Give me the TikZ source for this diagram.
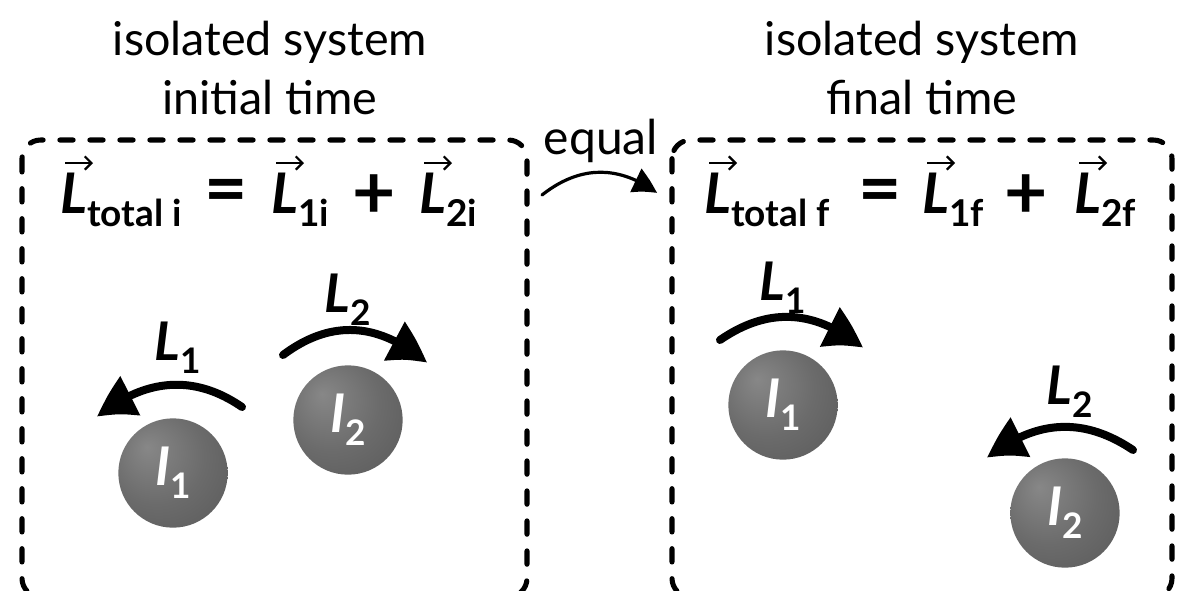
\documentclass[tikz,border=0pt]{standalone}
\usepackage{fontspec}
\setmainfont{Lato}
\usepackage{graphicx}
\usetikzlibrary{arrows.meta,bending}
\pgfdeclareradialshading{spheregray}{\pgfpoint{-12bp}{12bp}}{%
  color(0bp)=(black!47); color(22bp)=(black!58); color(45bp)=(black!66); color(60bp)=(black!70)}
\newcommand{\lowsub}[1]{\raisebox{-0.24em}{\scalebox{0.66}{#1}}}
\tikzset{
  sysbox/.style={draw=black, line width=3.8pt, line cap=round, dash pattern=on 10pt off 12.5pt, rounded corners=14pt},
  title/.style={align=center, font=\fontsize{35}{44}\selectfont, inner sep=0pt},
  eqterm/.style={font=\fontsize{42}{50}\selectfont\bfseries, inner sep=0pt, anchor=base west},
  eqop/.style={font=\fontsize{56}{60}\selectfont\bfseries, inner sep=0pt},
  vecarrow/.style={line width=1.6pt, -{Straight Barb[length=5pt,width=10pt,line width=1.6pt]}},
  sphere/.style={circle, minimum size=82pt, inner sep=0pt, shading=spheregray, text=white,
     font=\fontsize{40}{44}\selectfont\bfseries},
  llabel/.style={font=\fontsize{40}{44}\selectfont\bfseries, inner sep=0pt},
  spin/.style={line width=6pt, line cap=round, -{Triangle[length=31pt,width=31pt,bend]}},
  eqarrow/.style={line width=2.4pt, line cap=round, -{Triangle[length=19pt,width=19pt,bend]}}
}
\begin{document}
\begin{tikzpicture}[x=0.75pt,y=-0.75pt]
\useasboundingbox (0,0) rectangle (1190,590);
\clip (0,0) rectangle (1190,590);
% titles
\node[title] (t1) at (270,68) {isolated system\\initial time};
\node[title] (t2) at (922,68) {isolated system\\final time};
% boxes
\draw[sysbox] (22,140) rectangle (527,597);
\draw[sysbox] (672,140) rectangle (1172,597);
% left equation
\node[eqterm] (lt) at (60,213) {\textit{L}\lowsub{total i}};
\node[eqop] (leq) at (226,197) {=};
\node[eqterm] (l1) at (271,213) {\textit{L}\lowsub{1i}};
\node[eqop] (lpl) at (374,197) {+};
\node[eqterm] (l2) at (419,213) {\textit{L}\lowsub{2i}};
% right equation
\node[eqterm] (rt) at (704,213) {\textit{L}\lowsub{total f}};
\node[eqop] (req) at (880,197) {=};
\node[eqterm] (r1) at (922,213) {\textit{L}\lowsub{1f}};
\node[eqop] (rpl) at (1026,197) {+};
\node[eqterm] (r2) at (1074,213) {\textit{L}\lowsub{2f}};
% vector arrows over L
\foreach \n in {lt,l1,l2,rt,r1,r2}
  \draw[vecarrow] ([shift={(5,-50)}]\n.base west) -- ([shift={(33,-50)}]\n.base west);
% equal
\node[font=\fontsize{36}{40}\selectfont, inner sep=0pt] (eq) at (601,141) {equal};
\coordinate (q0) at (542,195);
\coordinate (q1) at (657,193);
\draw[eqarrow] (q0) .. controls (580,165) and (619,165) .. (q1);
% left spheres
\node[sphere] (a1) at (173,473) {\textit{I}\lowsub{1}};
\node[sphere] (a2) at (348,420) {\textit{I}\lowsub{2}};
\node[llabel] (la1) at (178,348) {\textit{L}\lowsub{1}};
\node[llabel] (la2) at (348,300) {\textit{L}\lowsub{2}};
\coordinate (p1s) at (242,407); \coordinate (p1e) at (97,417);
\coordinate (p2s) at (283,355); \coordinate (p2e) at (427,363);
\draw[spin] (p1s) .. controls (194,374) and (145,378) .. (p1e);
\draw[spin] (p2s) .. controls (331,319) and (379,322) .. (p2e);
% right spheres
\node[sphere] (b1) at (783,405) {\textit{I}\lowsub{1}};
\node[sphere] (b2) at (1065,513) {\textit{I}\lowsub{2}};
\node[llabel] (lb1) at (783,288) {\textit{L}\lowsub{1}};
\node[llabel] (lb2) at (1070,392) {\textit{L}\lowsub{2}};
\coordinate (r1s) at (720,340); \coordinate (r1e) at (863,348);
\coordinate (r2s) at (1133,450); \coordinate (r2e) at (987,458);
\draw[spin] (r1s) .. controls (768,307) and (815,309) .. (r1e);
\draw[spin] (r2s) .. controls (1084,417) and (1036,419) .. (r2e);
\end{tikzpicture}
\end{document}
